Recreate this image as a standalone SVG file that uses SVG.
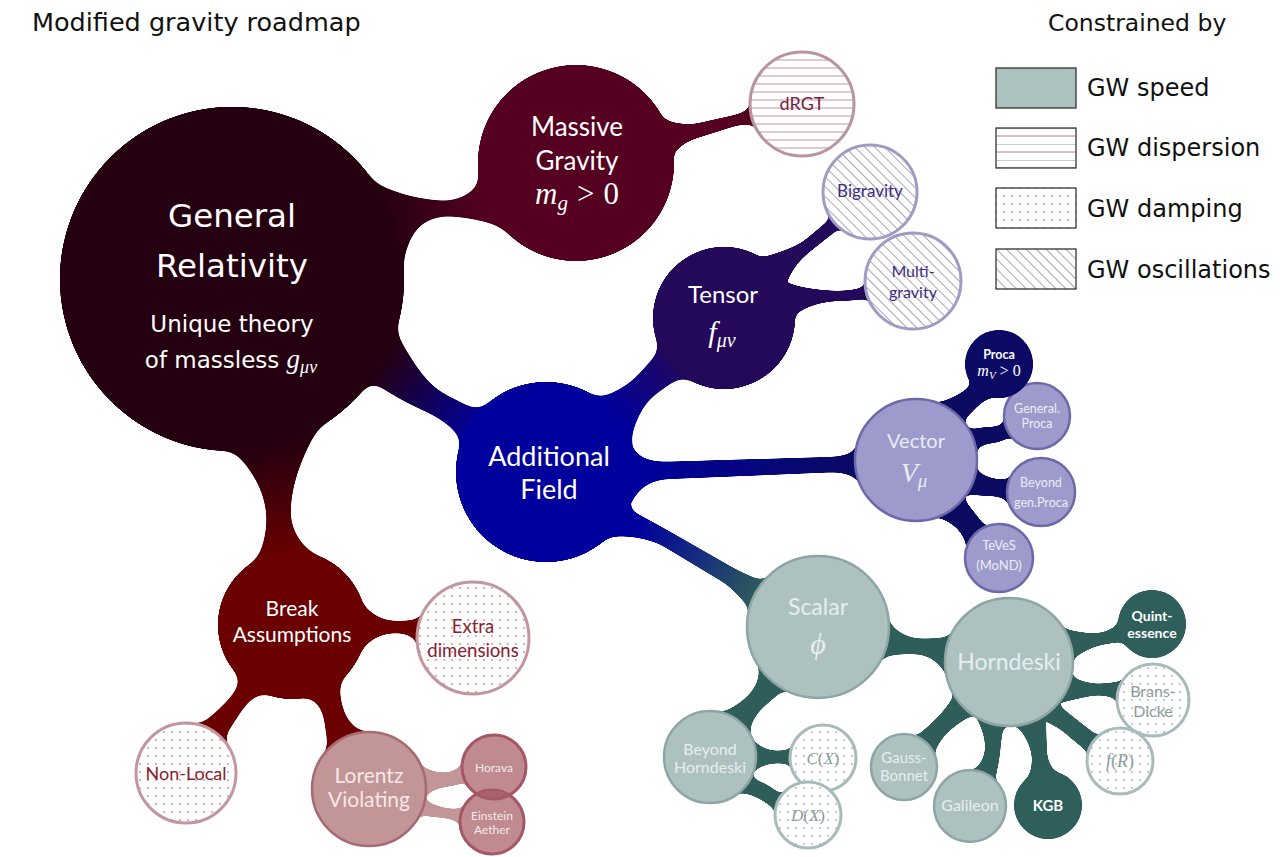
<svg xmlns="http://www.w3.org/2000/svg" width="1280" height="857" viewBox="0 0 1280 857">
<defs>
<style>
.t{font-family:Lato,"Open Sans",sans-serif;text-anchor:middle}
.b{font-weight:bold}
.m{font-family:"Liberation Serif","DejaVu Serif",serif;font-style:italic}
.u{font-style:normal}
.cm{font-family:"DejaVu Sans",sans-serif}
.w{fill:#ffffff}
.lv{fill:#9d9bcb;stroke:#6d69a8;stroke-width:2.5}
.lvt{fill:#ecebf6}
.sc{fill:#adc1c1;stroke:#8ea5a5;stroke-width:2.5}
.sct{fill:#e6eeee}
.dg{fill:url(#dotsG);stroke:#a9baba;stroke-width:3}
.dgt{fill:#8d9c9c}
.dp{fill:url(#dotsP);stroke:#c2969e;stroke-width:3}
.dpt{fill:#8a2030}
.pk{fill:#c29597;stroke:#a66b72;stroke-width:2.5}
.pkt{fill:#f6e8e8}
.hz{fill:url(#hatch);stroke:#9e9cc4;stroke-width:3}
.leg{fill:none;stroke:#333333;stroke-width:1.3}
.gl{filter:url(#gooL)}
.gm{filter:url(#gooM)}
.gs{filter:url(#gooS)}
</style>
<filter id="gooL" x="-20%" y="-20%" width="140%" height="140%" color-interpolation-filters="sRGB"><feGaussianBlur stdDeviation="8"/><feColorMatrix type="matrix" values="1 0 0 0 0 0 1 0 0 0 0 0 1 0 0 0 0 0 28 -13"/></filter>
<filter id="gooM" x="-20%" y="-20%" width="140%" height="140%" color-interpolation-filters="sRGB"><feGaussianBlur stdDeviation="6"/><feColorMatrix type="matrix" values="1 0 0 0 0 0 1 0 0 0 0 0 1 0 0 0 0 0 28 -13"/></filter>
<filter id="gooS" x="-20%" y="-20%" width="140%" height="140%" color-interpolation-filters="sRGB"><feGaussianBlur stdDeviation="4.5"/><feColorMatrix type="matrix" values="1 0 0 0 0 0 1 0 0 0 0 0 1 0 0 0 0 0 28 -13"/></filter>
<pattern id="hl" patternUnits="userSpaceOnUse" width="8" height="8"><rect width="8" height="8" fill="#ffffff"/><line x1="0" y1="4" x2="8" y2="4" stroke="#c6a3ad" stroke-width="1.1"/></pattern>
<pattern id="hlL" patternUnits="userSpaceOnUse" width="8" height="16"><rect width="8" height="16" fill="#ffffff"/><line x1="0" y1="0" x2="8" y2="0" stroke="#a4a4a4" stroke-width="1.1"/><line x1="0" y1="8" x2="8" y2="8" stroke="#c48a9c" stroke-width="1.1"/></pattern>
<pattern id="dotsP" patternUnits="userSpaceOnUse" width="8" height="8"><rect width="8" height="8" fill="#ffffff"/><circle cx="4" cy="4" r="0.95" fill="#c7909b"/></pattern>
<pattern id="dotsG" patternUnits="userSpaceOnUse" width="8" height="8"><rect width="8" height="8" fill="#ffffff"/><circle cx="4" cy="4" r="0.95" fill="#a9b7b7"/></pattern>
<pattern id="hatch" patternUnits="userSpaceOnUse" width="7" height="7" patternTransform="rotate(45)"><rect width="7" height="7" fill="#ffffff"/><line x1="0" y1="3.5" x2="7" y2="3.5" stroke="#a8a8b2" stroke-width="1"/></pattern>
<linearGradient id="gGRMG" gradientUnits="userSpaceOnUse" x1="380" y1="205" x2="490" y2="195"><stop offset="0" stop-color="#250010"/><stop offset="1" stop-color="#550020"/></linearGradient>
<linearGradient id="gGRAF" gradientUnits="userSpaceOnUse" x1="385" y1="355" x2="480" y2="425"><stop offset="0" stop-color="#250010"/><stop offset="1" stop-color="#00009c"/></linearGradient>
<linearGradient id="gGRBr" gradientUnits="userSpaceOnUse" x1="265" y1="445" x2="285" y2="560"><stop offset="0" stop-color="#250010"/><stop offset="1" stop-color="#6b0000"/></linearGradient>
<linearGradient id="gAFT" gradientUnits="userSpaceOnUse" x1="610" y1="410" x2="680" y2="355"><stop offset="0" stop-color="#00009c"/><stop offset="1" stop-color="#24085a"/></linearGradient>
<linearGradient id="gAFV" gradientUnits="userSpaceOnUse" x1="640" y1="470" x2="860" y2="462"><stop offset="0" stop-color="#00009c"/><stop offset="1" stop-color="#0b0b62"/></linearGradient>
<linearGradient id="gAFS" gradientUnits="userSpaceOnUse" x1="640" y1="520" x2="765" y2="590"><stop offset="0" stop-color="#00009c"/><stop offset="1" stop-color="#2f5e5a"/></linearGradient>
<clipPath id="cpHor"><circle cx="494" cy="767" r="32"/></clipPath>
<clipPath id="cpEin"><circle cx="492" cy="822" r="32"/></clipPath>
</defs>
<rect width="1280" height="857" fill="#ffffff"/>

<g id="connectors">
<g class="gl"><circle cx="232" cy="279" r="172" fill="#250010"/><circle cx="576" cy="163" r="98" fill="#550020"/>
<path fill="url(#gGRMG)" d="M358,175 Q405,201 445,201 Q470,201 484,178 L540,165 L505,228 Q475,216 445,216 Q412,216 404,258 L330,240 Z"/></g>
<g class="gl"><circle cx="232" cy="279" r="172" fill="#250010"/><circle cx="546" cy="472" r="90" fill="#00009c"/>
<path fill="url(#gGRAF)" d="M392,325 Q420,380 440,392 Q462,404 485,414 L546,472 L465,442 Q448,420 425,411 Q395,398 368,378 L232,279 Z"/></g>
<g class="gl"><circle cx="232" cy="279" r="172" fill="#250010"/><circle cx="292" cy="625" r="74" fill="#6b0000"/>
<path fill="url(#gGRBr)" d="M222,440 Q264,475 267,515 Q268,540 256,563 L292,625 L320,560 Q291,540 290,515 Q290,475 318,428 L232,279 Z"/></g>
<g class="gl"><circle cx="546" cy="472" r="90" fill="#00009c"/><circle cx="724" cy="318" r="71" fill="#24085a"/>
<path fill="url(#gAFT)" d="M595,400 Q618,393 634,380 Q650,362 663,348 L724,318 L683,375 Q663,388 650,398 Q637,412 630,440 L546,472 Z"/></g>
<g class="gm"><circle cx="546" cy="472" r="90" fill="#00009c"/><circle cx="916" cy="460" r="61" fill="#0b0b62"/>
<path fill="url(#gAFV)" d="M628,440 Q634,462 665,462 L835,457 Q850,456 860,448 L916,460 L862,482 Q850,472 835,472 L665,479 Q640,481 630,505 L546,472 Z"/></g>
<g class="gm"><circle cx="546" cy="472" r="90" fill="#00009c"/><circle cx="818" cy="627" r="71" fill="#2f5e5a"/>
<path fill="url(#gAFS)" d="M620,505 Q640,515 665,529 L735,569 Q748,576 765,582 L818,627 L752,610 Q740,597 728,585 L660,544 Q633,533 608,537 L546,472 Z"/></g>
<g class="gm"><circle cx="818" cy="627" r="71" fill="#2f5e5a"/><circle cx="1009" cy="662" r="64" fill="#2f5e5a"/>
<path fill="#2f5e5a" d="M880,610 Q895,637 918,639 Q935,639 952,637 L1009,662 L955,690 Q940,655 918,654 Q895,653 880,658 L818,627 Z"/></g>
<g class="gm"><circle cx="818" cy="627" r="71" fill="#2f5e5a"/><circle cx="710" cy="757" r="46" fill="#2f5e5a"/>
<path fill="#2f5e5a" d="M790,683 Q772,700 763,707 Q752,716 748,735 L710,757 L722,713 Q740,705 749,695 Q760,685 760,665 L818,627 Z"/></g>
<g class="gm"><circle cx="292" cy="625" r="74" fill="#6b0000"/><circle cx="473" cy="638" r="56" fill="#6b0000"/>
<path fill="#6b0000" d="M355,595 Q372,620 392,621 L405,621 Q415,621 424,617 L473,638 L422,645 Q412,633 400,633 L392,633 Q372,634 360,652 L292,625 Z"/></g>
<g class="gl"><circle cx="292" cy="625" r="74" fill="#6b0000"/><circle cx="186" cy="773" r="50" fill="#6b0000"/>
<path fill="#6b0000" d="M262,690 Q245,703 239,714 Q233,726 220,740 L186,773 L200,727 Q216,712 225,704 Q234,694 244,678 L292,625 Z"/></g>
<g class="gl"><circle cx="292" cy="625" r="74" fill="#6b0000"/><circle cx="369" cy="789" r="57" fill="#6b0000"/>
<path fill="#6b0000" d="M338,680 Q340,700 343,711 Q347,724 362,734 L369,789 L330,748 Q325,735 325,719 Q322,705 310,694 L292,625 Z"/></g>
<g class="gs"><circle cx="576" cy="163" r="98" fill="#550020"/><circle cx="802" cy="104" r="52" fill="#550020"/>
<path fill="#550020" d="M655,112 Q668,126 695,124 L735,115 Q745,113 753,105 L802,104 L756,125 Q748,124 738,125 L700,137 Q680,142 668,160 L576,163 Z"/></g>
<g class="gs"><circle cx="724" cy="318" r="71" fill="#24085a"/><circle cx="870" cy="192" r="47" fill="#24085a"/>
<path fill="#24085a" d="M785,285 Q795,262 810,251.5 Q822,242 842,226 L870,192 L835,215 Q815,232 802,242.5 Q785,252 760,258 L724,318 Z"/></g>
<g class="gs"><circle cx="724" cy="318" r="71" fill="#24085a"/><circle cx="913" cy="281" r="48" fill="#24085a"/>
<path fill="#24085a" d="M785,282 Q805,290 835,291 Q855,291 868,286 L913,281 L870,298 Q855,301 835,301 Q808,303 790,318 L724,318 Z"/></g>
<g class="gs"><circle cx="916" cy="460" r="61" fill="#0b0b62"/><circle cx="999" cy="364" r="34" fill="#0b0b62"/>
<path fill="#0b0b62" d="M938,403 Q955,398 967,389 Q975,383 975,378 L999,364 L991,397 Q979,403 973,411 Q966,418 962,421 L916,460 Z"/></g>
<g class="gs"><circle cx="916" cy="460" r="61" fill="#0b0b62"/><circle cx="1037" cy="416" r="33" fill="#0b0b62"/>
<path fill="#0b0b62" d="M970,430 Q980,427 992,427 Q1000,427 1008,421 L1037,416 L1010,436 Q1002,443 992,443 Q982,444 974,450 L916,460 Z"/></g>
<g class="gs"><circle cx="916" cy="460" r="61" fill="#0b0b62"/><circle cx="1041" cy="492" r="34" fill="#0b0b62"/>
<path fill="#0b0b62" d="M975,470 Q985,477 995,479 Q1003,480 1012,479 L1041,492 L1010,503 Q1003,497 995,496 Q985,496 966,494 L916,460 Z"/></g>
<g class="gs"><circle cx="916" cy="460" r="61" fill="#0b0b62"/><circle cx="999" cy="558" r="34" fill="#0b0b62"/>
<path fill="#0b0b62" d="M962,497 Q973,511 981,521 Q986,528 986,535 L999,558 L968,549 Q964,535 957,528 Q949,521 938,517 L916,460 Z"/></g>
<g class="gs"><circle cx="1009" cy="662" r="64" fill="#2f5e5a"/><circle cx="1152" cy="624" r="34" fill="#2f5e5a"/>
<path fill="#2f5e5a" d="M1062,628 Q1085,635 1100,633 Q1112,631 1122,621 L1152,624 L1124,641 Q1112,643 1100,645 Q1085,649 1068,662 L1009,662 Z"/></g>
<g class="gs"><circle cx="1009" cy="662" r="64" fill="#2f5e5a"/><circle cx="1153" cy="700" r="36" fill="#2f5e5a"/>
<path fill="#2f5e5a" d="M1060,671 Q1080,683 1097,684 Q1110,684 1122,681 L1153,700 L1121,701 Q1110,695 1097,695 Q1082,697 1056,704 L1009,662 Z"/></g>
<g class="gs"><circle cx="1009" cy="662" r="64" fill="#2f5e5a"/><circle cx="1120" cy="761" r="33" fill="#2f5e5a"/>
<path fill="#2f5e5a" d="M1056,703 Q1073,717 1086,727 Q1095,733 1099,739 L1120,761 L1090,753 Q1080,746 1072,739 Q1059,726 1040,719 L1009,662 Z"/></g>
<g class="gs"><circle cx="1009" cy="662" r="64" fill="#2f5e5a"/><circle cx="1048" cy="805" r="34" fill="#2f5e5a"/>
<path fill="#2f5e5a" d="M1046,711 Q1046,738 1047,755 Q1048,766 1059,776 L1048,805 L1029,777 Q1033,766 1032,755 Q1029,738 1014,722 L1009,662 Z"/></g>
<g class="gs"><circle cx="1009" cy="662" r="64" fill="#2f5e5a"/><circle cx="970" cy="806" r="36" fill="#2f5e5a"/>
<path fill="#2f5e5a" d="M1004,720 Q1001,740 1000,752 Q999,764 994,782 L970,806 L972,772 Q983,764 985,752 Q987,738 977,718 L1009,662 Z"/></g>
<g class="gs"><circle cx="1009" cy="662" r="64" fill="#2f5e5a"/><circle cx="904" cy="767" r="33" fill="#2f5e5a"/>
<path fill="#2f5e5a" d="M976,713 Q956,723 944,736 Q936,746 933,756 L904,767 L915,738 Q924,730 932,723 Q944,712 955,695 L1009,662 Z"/></g>
<g class="gs"><circle cx="710" cy="757" r="46" fill="#2f5e5a"/><circle cx="823" cy="758" r="33" fill="#2f5e5a"/>
<path fill="#2f5e5a" d="M748,735 Q760,750 775,751 Q788,751 795,748 L823,758 L795,765 Q785,763 775,763 Q762,764 752,772 L710,757 Z"/></g>
<g class="gs"><circle cx="710" cy="757" r="46" fill="#2f5e5a"/><circle cx="808" cy="815" r="33" fill="#2f5e5a"/>
<path fill="#2f5e5a" d="M750,778 Q765,782 775,790 Q780,795 785,797 L808,815 L778,812 Q770,805 762,800 Q750,793 738,792 L710,757 Z"/></g>
<g class="gs"><circle cx="369" cy="789" r="57" fill="#c29597"/><circle cx="494" cy="767" r="32" fill="#c29597"/>
<path fill="#c29597" d="M420,765 Q432,773 445,773 Q455,773 468,760 L494,767 L466,782 Q455,786 445,787 Q433,788 424,797 L369,789 Z"/></g>
<g class="gs"><circle cx="369" cy="789" r="57" fill="#c29597"/><circle cx="492" cy="822" r="32" fill="#c29597"/>
<path fill="#c29597" d="M424,800 Q435,806 445,808 Q453,810 465,808 L492,822 L465,826 Q455,819 445,818 Q433,817 420,815 L369,789 Z"/></g>
</g>

<g id="n-gr"><circle cx="232" cy="279" r="172" fill="#250010"/>
<text class="cm w" x="232" y="227" font-size="32.5" text-anchor="middle">General</text>
<text class="cm w" x="232" y="277" font-size="32.5" text-anchor="middle">Relativity</text>
<text class="cm w" x="232" y="332" font-size="23" text-anchor="middle">Unique theory</text>
<text class="cm w" x="231" y="368" font-size="23" text-anchor="middle">of massless <tspan class="m" font-size="27">g</tspan><tspan class="m" font-size="18" dy="5">μν</tspan></text></g>

<g id="n-mg"><circle cx="576" cy="163" r="98" fill="#550020"/>
<text class="t w" x="577" y="136" font-size="26">Massive</text>
<text class="t w" x="577" y="170" font-size="26">Gravity</text>
<text class="m w" x="577" y="204" font-size="31" text-anchor="middle">m<tspan font-size="21" dy="6">g</tspan><tspan class="u" dy="-6" dx="9">&gt;</tspan><tspan class="u" dx="9">0</tspan></text></g>

<g id="n-drgt"><circle cx="802" cy="104" r="52" fill="url(#hl)" stroke="#b8949c" stroke-width="3"/>
<text class="t" x="802" y="110" font-size="18" fill="#7a2045">dRGT</text></g>

<g id="n-tensor"><circle cx="724" cy="318" r="71" fill="#24085a"/>
<text class="t w" x="723" y="303" font-size="24">Tensor</text>
<text class="m w" x="722" y="342" font-size="30" text-anchor="middle">f<tspan font-size="20" dy="5">μν</tspan></text></g>

<g id="n-big"><circle cx="870" cy="192" r="47" class="hz"/>
<text class="t" x="870" y="197" font-size="17" fill="#3c2c84">Bigravity</text></g>

<g id="n-multi"><circle cx="913" cy="281" r="48" class="hz"/>
<text class="t" x="913" y="277" font-size="16" fill="#3c2c84">Multi-</text>
<text class="t" x="913" y="298" font-size="16" fill="#3c2c84">gravity</text></g>

<g id="n-af"><circle cx="546" cy="472" r="90" fill="#00009c"/>
<text class="t w" x="549" y="466" font-size="27">Additional</text>
<text class="t w" x="549" y="499" font-size="27">Field</text></g>

<g id="n-vector"><circle cx="916" cy="460" r="61" class="lv"/>
<text class="t lvt" x="916" y="448" font-size="20">Vector</text>
<text class="m lvt" x="914" y="482" font-size="28" text-anchor="middle">V<tspan font-size="19" dy="5">μ</tspan></text></g>

<g id="n-genproca"><circle cx="1037" cy="416" r="33" class="lv"/>
<text class="t lvt" x="1037" y="413" font-size="12.5">General.</text>
<text class="t lvt" x="1037" y="428" font-size="12.5">Proca</text></g>

<g id="n-proca"><circle cx="999" cy="364" r="34" fill="#0b0b66"/>
<text class="t b w" x="999" y="359" font-size="12.5">Proca</text>
<text class="m w" x="999" y="376" font-size="16" text-anchor="middle">m<tspan font-size="11" dy="3">V</tspan><tspan class="u" dy="-3" dx="4">&gt;</tspan><tspan class="u" dx="4">0</tspan></text></g>

<g id="n-beyondproca"><circle cx="1041" cy="492" r="34" class="lv"/>
<text class="t lvt" x="1041" y="487" font-size="12.5">Beyond</text>
<text class="t lvt" x="1041" y="507" font-size="12.5">gen.Proca</text></g>

<g id="n-teves"><circle cx="999" cy="558" r="34" class="lv"/>
<text class="t lvt" x="999" y="550" font-size="13">TeVeS</text>
<text class="t lvt" x="999" y="570" font-size="13">(MoND)</text></g>

<g id="n-scalar"><circle cx="818" cy="627" r="71" class="sc"/>
<text class="t sct" x="818" y="615" font-size="23">Scalar</text>
<text class="m sct" x="818" y="654" font-size="30" text-anchor="middle">ϕ</text></g>

<g id="n-horndeski"><circle cx="1009" cy="662" r="64" class="sc"/>
<text class="t sct" x="1009" y="670" font-size="23">Horndeski</text></g>

<g id="n-quint"><circle cx="1152" cy="624" r="34" fill="#2f5f5a"/>
<text class="t b w" x="1152" y="621" font-size="14">Quint-</text>
<text class="t b w" x="1152" y="638" font-size="14">essence</text></g>

<g id="n-bd"><circle cx="1153" cy="700" r="36" class="dg"/>
<text class="t dgt" x="1153" y="697" font-size="16">Brans-</text>
<text class="t dgt" x="1153" y="717" font-size="16">Dicke</text></g>

<g id="n-fr"><circle cx="1120" cy="761" r="33" class="dg"/>
<text class="m dgt" x="1120" y="767" font-size="18" text-anchor="middle">f<tspan class="u">(</tspan>R<tspan class="u">)</tspan></text></g>

<g id="n-kgb"><circle cx="1048" cy="805" r="34" fill="#2f5f5a"/>
<text class="t b w" x="1048" y="811" font-size="15">KGB</text></g>

<g id="n-galileon"><circle cx="970" cy="806" r="36" class="sc"/>
<text class="t sct" x="970" y="811" font-size="16">Galileon</text></g>

<g id="n-gb"><circle cx="904" cy="767" r="33" class="sc"/>
<text class="t sct" x="904" y="763" font-size="15">Gauss-</text>
<text class="t sct" x="904" y="781" font-size="15">Bonnet</text></g>

<g id="n-bh"><circle cx="710" cy="757" r="46" class="sc"/>
<text class="t sct" x="710" y="755" font-size="16">Beyond</text>
<text class="t sct" x="710" y="773" font-size="16">Horndeski</text></g>

<g id="n-cx"><circle cx="823" cy="758" r="33" class="dg"/>
<text class="m dgt" x="823" y="764" font-size="17" text-anchor="middle">C<tspan class="u">(</tspan>X<tspan class="u">)</tspan></text></g>

<g id="n-dx"><circle cx="808" cy="815" r="33" class="dg"/>
<text class="m dgt" x="808" y="821" font-size="17" text-anchor="middle">D<tspan class="u">(</tspan>X<tspan class="u">)</tspan></text></g>

<g id="n-break"><circle cx="292" cy="625" r="74" fill="#6b0000"/>
<text class="t w" x="292" y="616" font-size="21">Break</text>
<text class="t w" x="292" y="642" font-size="21">Assumptions</text></g>

<g id="n-extra"><circle cx="473" cy="638" r="56" class="dp"/>
<text class="t dpt" x="473" y="633" font-size="18.5">Extra</text>
<text class="t dpt" x="473" y="657" font-size="18.5">dimensions</text></g>

<g id="n-nonlocal"><circle cx="186" cy="773" r="50" class="dp"/>
<text class="t dpt" x="186" y="780" font-size="18">Non-Local</text></g>

<g id="n-lorentz"><circle cx="369" cy="789" r="57" class="pk"/>
<text class="t pkt" x="369" y="783" font-size="21">Lorentz</text>
<text class="t pkt" x="369" y="807" font-size="21">Violating</text></g>

<g id="n-horava"><circle cx="494" cy="767" r="32" fill="#c08b90" stroke="#a55766" stroke-width="3"/>
<text class="t pkt" x="494" y="772" font-size="12">Horava</text></g>

<g id="n-einstein"><circle cx="492" cy="822" r="32" fill="#c08b90" stroke="#a55766" stroke-width="3"/>
<circle cx="492" cy="822" r="32" fill="#a8616d" clip-path="url(#cpHor)"/>
<circle cx="494" cy="767" r="32" fill="none" stroke="#a55766" stroke-width="3" clip-path="url(#cpEin)"/>
<text class="t pkt" x="492" y="820" font-size="12">Einstein</text>
<text class="t pkt" x="492" y="834" font-size="12">Aether</text></g>

<g id="title"><text class="cm" x="32" y="31" font-size="25.5" fill="#111111">Modified gravity roadmap</text></g>

<g id="legend">
<text class="cm" x="1048" y="31" font-size="23.5" fill="#111111">Constrained by</text>
<rect x="996" y="68" width="80" height="40" class="leg" style="fill:#adc1c1"/>
<rect x="996" y="128" width="80" height="40" class="leg" style="fill:url(#hlL)"/>
<rect x="996" y="188" width="80" height="40" class="leg" style="fill:url(#dotsP)"/>
<rect x="996" y="249" width="80" height="40" class="leg" style="fill:url(#hatch)"/>
<text class="cm" x="1087" y="96" font-size="24" fill="#111111">GW speed</text>
<text class="cm" x="1087" y="156" font-size="24" fill="#111111">GW dispersion</text>
<text class="cm" x="1087" y="217" font-size="24" fill="#111111">GW damping</text>
<text class="cm" x="1087" y="278" font-size="24" fill="#111111">GW oscillations</text>
</g>
</svg>
